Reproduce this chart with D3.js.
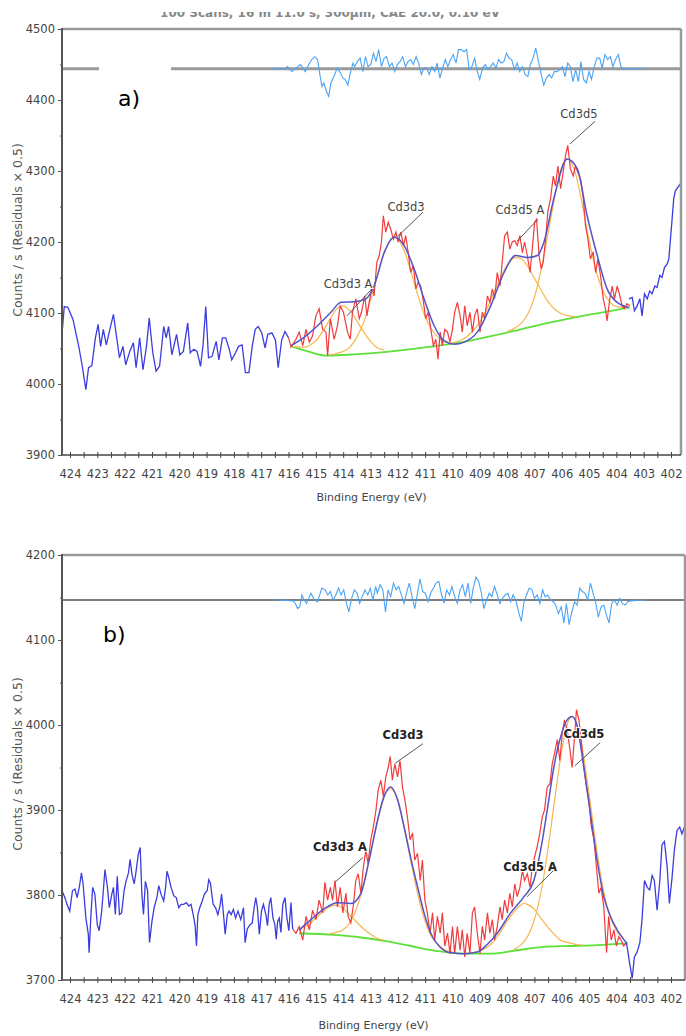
<!DOCTYPE html>
<html lang="en">
<head>
<meta charset="UTF-8">
<title>Cd 3d XPS</title>
<script src="https://d3js.org/d3.v7.min.js"></script>
<style>
  body { margin: 0; background: #fff; }
  svg { display: block; }
  text { font-family: "DejaVu Sans", Verdana, sans-serif; }
</style>
</head>
<body>
<svg width="686" height="1036"></svg>
<script>
// ---- tick labels ----
const xTickLabels = [424, 423, 422, 421, 420, 419, 418, 417, 416, 415, 414, 413, 412, 411, 410, 409, 408, 407, 406, 405, 404, 403, 402];
const yTicksA = [3900, 4000, 4100, 4200, 4300, 4400, 4500];
const yTicksB = [3700, 3800, 3900, 4000, 4100, 4200];
const titleA = "100 Scans,  16 m 11.0 s,  300µm,  CAE 20.0,  0.10 eV";

// ---- panel a: [binding energy (eV), counts/s] ----
const rawA_left = [[424.29,4072],[424.21,4109],[424.08,4108],[423.89,4091],[423.68,4053],[423.55,4025],[423.42,3992],[423.32,4023],[423.2,4026],[423.07,4065],[422.97,4084],[422.88,4053],[422.78,4077],[422.67,4055],[422.54,4077],[422.41,4098],[422.29,4065],[422.19,4037],[422.06,4053],[421.96,4027],[421.81,4046],[421.68,4058],[421.58,4023],[421.45,4065],[421.33,4020],[421.2,4053],[421.1,4093],[420.97,4044],[420.85,4018],[420.72,4025],[420.57,4081],[420.48,4065],[420.39,4081],[420.27,4041],[420.1,4070],[419.98,4041],[419.85,4046],[419.69,4086],[419.6,4044],[419.47,4049],[419.35,4046],[419.22,4025],[419.13,4055],[419.03,4109],[418.93,4037],[418.8,4039],[418.65,4060],[418.55,4034],[418.42,4065],[418.3,4065],[418.17,4049],[418.08,4034],[417.94,4044],[417.83,4053],[417.7,4055],[417.58,4016],[417.45,4016],[417.33,4053],[417.22,4077],[417.11,4081],[416.98,4072],[416.86,4051],[416.76,4070],[416.61,4072],[416.48,4062],[416.38,4023],[416.25,4062],[416.13,4074],[416.0,4065]];
const rawA_right = [[403.54,4120],[403.42,4122],[403.34,4103],[403.24,4110],[403.14,4120],[403.06,4096],[402.97,4127],[402.87,4120],[402.78,4131],[402.69,4127],[402.59,4138],[402.51,4136],[402.41,4153],[402.33,4150],[402.24,4164],[402.14,4169],[402.08,4176],[402.02,4204],[401.96,4232],[401.9,4261],[401.84,4272],[401.6,4285]];
const rawA_fit = [[416.0,4065],[415.91,4052],[415.73,4063],[415.61,4073],[415.48,4054],[415.36,4077],[415.24,4059],[415.12,4068],[415.0,4096],[414.88,4106],[414.75,4077],[414.63,4073],[414.57,4040],[414.47,4092],[414.33,4063],[414.21,4082],[414.11,4110],[413.99,4101],[413.84,4073],[413.74,4063],[413.66,4101],[413.54,4120],[413.41,4092],[413.33,4101],[413.21,4124],[413.13,4096],[413.05,4115],[412.93,4138],[412.87,4124],[412.77,4171],[412.68,4181],[412.6,4200],[412.53,4237],[412.44,4214],[412.35,4228],[412.26,4218],[412.16,4204],[412.07,4214],[411.99,4200],[411.89,4214],[411.79,4195],[411.71,4209],[411.62,4185],[411.53,4157],[411.43,4167],[411.34,4134],[411.26,4143],[411.16,4138],[411.06,4115],[410.98,4092],[410.89,4101],[410.79,4077],[410.7,4054],[410.61,4063],[410.53,4035],[410.45,4073],[410.37,4054],[410.28,4077],[410.18,4073],[410.09,4059],[410.0,4077],[409.92,4101],[409.82,4115],[409.72,4096],[409.64,4073],[409.55,4110],[409.46,4082],[409.36,4101],[409.27,4073],[409.19,4096],[409.09,4106],[408.99,4073],[408.91,4101],[408.82,4092],[408.72,4124],[408.63,4115],[408.54,4134],[408.46,4120],[408.36,4157],[408.26,4138],[408.18,4171],[408.09,4209],[407.99,4214],[407.9,4190],[407.81,4200],[407.72,4202],[407.63,4195],[407.53,4209],[407.44,4185],[407.36,4200],[407.26,4181],[407.16,4157],[407.08,4190],[406.99,4228],[406.92,4232],[406.83,4181],[406.75,4162],[406.68,4171],[406.59,4204],[406.51,4242],[406.41,4261],[406.31,4293],[406.23,4279],[406.14,4307],[406.04,4275],[405.95,4298],[405.86,4322],[405.78,4336],[405.68,4303],[405.58,4293],[405.5,4307],[405.41,4298],[405.31,4289],[405.21,4261],[405.13,4223],[405.04,4204],[404.95,4176],[404.85,4186],[404.76,4157],[404.68,4176],[404.58,4153],[404.48,4120],[404.4,4106],[404.34,4089],[404.24,4120],[404.15,4138],[404.07,4120],[403.97,4138],[403.87,4124],[403.79,4110],[403.71,4106],[403.61,4113],[403.51,4110]];
const bgA = [[415.91,4053],[415.3,4046],[414.6,4040],[413.5,4042],[412.5,4045],[411.5,4049],[410.5,4054],[409.5,4060],[408.5,4068],[407.5,4077],[406.5,4086],[405.5,4094],[404.5,4101],[403.5,4108]];
const envA = [[415.91,4054],[415.42,4066],[414.94,4082],[414.45,4101],[414.08,4115],[413.59,4116],[413.17,4120],[412.86,4139],[412.5,4185],[412.13,4207],[411.77,4195],[411.4,4162],[411.04,4120],[410.67,4082],[410.31,4061],[409.94,4056],[409.57,4059],[409.09,4073],[408.6,4110],[408.11,4157],[407.69,4181],[407.26,4178],[406.89,4181],[406.65,4200],[406.29,4261],[405.8,4317],[405.43,4303],[405.07,4237],[404.7,4181],[404.34,4134],[403.97,4115],[403.55,4108]];
const cd3d3A_a = [[415.91,4053],[415.6,4052],[415.4,4052],[415.2,4055],[415.0,4061],[414.75,4074],[414.5,4090],[414.25,4105],[414.02,4110],[413.75,4103],[413.5,4089],[413.25,4073],[413.0,4060],[412.75,4051],[412.5,4048]];
const cd3d3_a = [[414.5,4041],[414.25,4043],[414.0,4046],[413.75,4052],[413.5,4066],[413.25,4087],[413.0,4118],[412.75,4152],[412.5,4184],[412.13,4206],[412.0,4204],[411.75,4186],[411.5,4156],[411.25,4123],[411.0,4095],[410.75,4076],[410.5,4065],[410.25,4059],[410.0,4058]];
const cd3d5A_a = [[410.0,4058],[409.75,4061],[409.5,4066],[409.25,4075],[409.0,4087],[408.75,4105],[408.5,4127],[408.25,4149],[408.0,4168],[407.69,4178],[407.5,4177],[407.25,4166],[407.0,4149],[406.75,4132],[406.5,4116],[406.25,4105],[406.0,4099],[405.75,4096],[405.5,4095]];
const cd3d5_a = [[408.0,4074],[407.75,4078],[407.5,4085],[407.25,4098],[407.0,4122],[406.75,4162],[406.5,4212],[406.25,4265],[406.0,4305],[405.8,4317],[405.5,4297],[405.25,4254],[405.0,4203],[404.75,4160],[404.5,4132],[404.25,4116],[404.0,4109],[403.75,4108],[403.5,4108]];
const residA = [[416.61,4444],[416.12,4444],[416.04,4447],[415.88,4440],[415.72,4445],[415.56,4450],[415.39,4440],[415.26,4450],[415.15,4457],[415.04,4461],[414.94,4457],[414.87,4440],[414.78,4419],[414.71,4424],[414.61,4412],[414.53,4405],[414.45,4424],[414.34,4433],[414.22,4445],[414.13,4440],[414.01,4431],[413.93,4429],[413.83,4421],[413.74,4438],[413.64,4452],[413.58,4447],[413.48,4454],[413.38,4459],[413.28,4440],[413.18,4461],[413.09,4447],[412.99,4450],[412.89,4466],[412.8,4454],[412.7,4471],[412.6,4447],[412.5,4459],[412.41,4461],[412.31,4447],[412.21,4452],[412.11,4440],[412.02,4450],[411.92,4454],[411.82,4461],[411.72,4447],[411.63,4454],[411.53,4457],[411.43,4450],[411.33,4461],[411.24,4452],[411.14,4436],[411.04,4445],[410.94,4445],[410.85,4436],[410.75,4447],[410.65,4440],[410.56,4452],[410.46,4431],[410.36,4445],[410.26,4457],[410.17,4447],[410.07,4457],[409.97,4464],[409.87,4452],[409.78,4471],[409.68,4471],[409.58,4468],[409.48,4471],[409.39,4443],[409.29,4447],[409.19,4459],[409.09,4440],[409.0,4429],[408.9,4445],[408.8,4450],[408.7,4443],[408.61,4447],[408.51,4452],[408.41,4445],[408.31,4457],[408.22,4452],[408.12,4454],[408.02,4466],[407.93,4459],[407.83,4457],[407.73,4443],[407.63,4452],[407.54,4440],[407.44,4447],[407.34,4436],[407.24,4433],[407.15,4450],[407.05,4459],[406.95,4473],[406.85,4454],[406.76,4438],[406.66,4421],[406.56,4431],[406.46,4436],[406.37,4431],[406.27,4440],[406.17,4440],[406.07,4443],[405.98,4447],[405.88,4433],[405.78,4452],[405.68,4447],[405.59,4426],[405.49,4443],[405.39,4426],[405.3,4454],[405.2,4429],[405.1,4424],[405.0,4440],[404.91,4429],[404.81,4447],[404.71,4459],[404.61,4459],[404.52,4445],[404.42,4464],[404.32,4457],[404.22,4461],[404.13,4447],[404.03,4457],[403.93,4464],[403.83,4447],[403.74,4443],[403.64,4445],[403.54,4443],[403.44,4444],[402.97,4444]];
const zeroA = 4444;
const zeroGapA = [422.94, 420.3];
const labelsA = [
  { text: "Cd3d3 A", at: [413.82, 4141], from: [412.95, 4134], to: [413.86, 4096] },
  { text: "Cd3d3",   at: [411.7, 4249],  from: [411.08, 4242], to: [412.0, 4208] },
  { text: "Cd3d5 A", at: [407.53, 4245], from: [406.87, 4232], to: [407.64, 4201] },
  { text: "Cd3d5",   at: [405.37, 4380], from: [404.78, 4370], to: [405.7, 4338] }
];

// ---- panel b ----
const rawB_left = [[424.29,3805],[424.19,3797],[424.11,3789],[424.01,3781],[423.91,3805],[423.82,3807],[423.74,3797],[423.66,3809],[423.58,3826],[423.52,3813],[423.42,3773],[423.33,3754],[423.3,3732],[423.24,3773],[423.17,3809],[423.09,3801],[423.0,3765],[422.93,3758],[422.84,3781],[422.78,3805],[422.72,3830],[422.63,3809],[422.56,3785],[422.47,3801],[422.41,3809],[422.34,3777],[422.27,3822],[422.19,3777],[422.11,3779],[422.02,3805],[421.95,3816],[421.86,3826],[421.8,3842],[421.73,3824],[421.65,3813],[421.58,3828],[421.5,3848],[421.43,3856],[421.37,3801],[421.31,3777],[421.24,3816],[421.16,3805],[421.09,3744],[421.0,3769],[420.92,3785],[420.82,3797],[420.75,3811],[420.67,3801],[420.57,3793],[420.5,3809],[420.45,3828],[420.38,3820],[420.3,3809],[420.2,3799],[420.11,3797],[420.02,3785],[419.93,3789],[419.84,3789],[419.74,3791],[419.65,3787],[419.57,3789],[419.49,3777],[419.42,3764],[419.37,3740],[419.32,3777],[419.25,3785],[419.16,3793],[419.08,3801],[418.98,3805],[418.92,3818],[418.86,3814],[418.76,3789],[418.67,3785],[418.59,3777],[418.51,3787],[418.45,3801],[418.37,3773],[418.32,3754],[418.24,3777],[418.18,3781],[418.1,3777],[418.02,3783],[417.94,3773],[417.85,3781],[417.75,3771],[417.65,3785],[417.59,3744],[417.51,3760],[417.41,3765],[417.33,3767],[417.26,3785],[417.2,3797],[417.14,3785],[417.07,3754],[416.99,3781],[416.92,3789],[416.83,3777],[416.77,3764],[416.71,3789],[416.65,3797],[416.57,3773],[416.5,3765],[416.45,3748],[416.4,3769],[416.34,3773],[416.28,3756],[416.21,3789],[416.13,3797],[416.06,3773],[415.99,3758],[415.91,3791],[415.85,3760]];
const rawB_right = [[403.63,3744],[403.51,3719],[403.42,3702],[403.34,3727],[403.24,3733],[403.14,3744],[403.06,3771],[402.97,3817],[402.87,3809],[402.78,3806],[402.69,3823],[402.61,3817],[402.51,3782],[402.41,3817],[402.33,3859],[402.24,3863],[402.14,3833],[402.06,3790],[401.96,3821],[401.88,3852],[401.78,3876],[401.68,3880],[401.6,3872],[401.45,3885]];
const rawB_fit = [[415.85,3760],[415.73,3755],[415.61,3763],[415.48,3747],[415.36,3775],[415.24,3759],[415.12,3782],[415.0,3771],[414.88,3794],[414.75,3779],[414.67,3815],[414.57,3794],[414.47,3809],[414.39,3794],[414.3,3817],[414.21,3786],[414.11,3809],[414.01,3779],[413.9,3802],[413.82,3775],[413.72,3767],[413.62,3790],[413.54,3817],[413.45,3825],[413.35,3802],[413.26,3833],[413.17,3853],[413.09,3837],[412.99,3865],[412.89,3881],[412.8,3900],[412.72,3923],[412.62,3935],[412.53,3916],[412.44,3939],[412.35,3950],[412.28,3963],[412.2,3935],[412.11,3954],[412.01,3939],[411.92,3958],[411.83,3927],[411.74,3912],[411.65,3892],[411.55,3865],[411.46,3873],[411.38,3841],[411.28,3849],[411.18,3817],[411.1,3841],[411.01,3794],[410.92,3779],[410.82,3755],[410.73,3779],[410.65,3747],[410.55,3775],[410.45,3755],[410.37,3779],[410.28,3740],[410.18,3755],[410.09,3731],[410.0,3763],[409.92,3731],[409.82,3763],[409.72,3735],[409.64,3759],[409.55,3727],[409.46,3755],[409.36,3731],[409.27,3779],[409.19,3786],[409.09,3755],[408.99,3731],[408.91,3763],[408.82,3747],[408.72,3779],[408.63,3755],[408.54,3771],[408.46,3747],[408.36,3763],[408.26,3786],[408.18,3771],[408.09,3794],[407.99,3779],[407.9,3802],[407.81,3786],[407.72,3813],[407.63,3798],[407.53,3809],[407.44,3829],[407.36,3817],[407.26,3825],[407.16,3809],[407.08,3833],[406.99,3845],[406.9,3857],[406.8,3873],[406.71,3892],[406.63,3900],[406.53,3927],[406.43,3931],[406.35,3954],[406.26,3967],[406.16,3983],[406.07,3958],[405.98,3990],[405.9,4006],[405.8,3994],[405.7,3971],[405.62,3950],[405.53,3986],[405.46,4018],[405.37,4006],[405.29,3983],[405.19,3950],[405.09,3927],[405.01,3912],[404.92,3881],[404.82,3865],[404.73,3833],[404.64,3802],[404.56,3809],[404.46,3786],[404.36,3732],[404.28,3775],[404.19,3747],[404.09,3759],[404.0,3740],[403.91,3751],[403.83,3747],[403.73,3740],[403.63,3744]];
const bgB = [[415.61,3755],[414.33,3753],[413.35,3750],[412.5,3746],[411.53,3740],[410.55,3734],[409.58,3731],[408.6,3731],[407.63,3735],[406.65,3739],[405.68,3740],[404.7,3741],[403.61,3743]];
const envB = [[415.61,3759],[415.18,3771],[414.69,3784],[414.2,3791],[413.72,3790],[413.35,3802],[413.05,3841],[412.74,3888],[412.5,3916],[412.26,3927],[412.01,3912],[411.77,3880],[411.53,3844],[411.28,3810],[411.04,3779],[410.79,3755],[410.43,3738],[410.06,3732],[409.58,3731],[409.09,3733],[408.72,3742],[408.36,3755],[407.87,3779],[407.38,3798],[407.02,3817],[406.77,3853],[406.53,3900],[406.29,3950],[406.04,3986],[405.8,4006],[405.62,4010],[405.43,3998],[405.19,3950],[404.95,3896],[404.7,3840],[404.46,3798],[404.22,3775],[403.97,3759],[403.61,3743]];
const cd3d3A_b = [[415.61,3757],[415.5,3761],[415.25,3765],[415.0,3773],[414.75,3780],[414.5,3786],[414.27,3788],[414.0,3784],[413.75,3776],[413.5,3768],[413.25,3760],[413.0,3754],[412.75,3749],[412.5,3747]];
const cd3d3_b = [[414.5,3754],[414.25,3756],[414.0,3759],[413.75,3768],[413.5,3785],[413.25,3813],[413.0,3849],[412.75,3886],[412.5,3917],[412.26,3925],[412.0,3912],[411.75,3877],[411.5,3836],[411.25,3798],[411.0,3769],[410.75,3750],[410.5,3741],[410.25,3735],[410.0,3733]];
const cd3d5A_b = [[409.5,3731],[409.25,3732],[409.0,3734],[408.75,3738],[408.5,3745],[408.25,3756],[408.0,3769],[407.75,3780],[407.5,3788],[407.38,3790],[407.25,3789],[407.0,3783],[406.75,3772],[406.5,3762],[406.25,3753],[406.0,3746],[405.75,3744],[405.5,3742],[405.25,3741]];
const cd3d5_b = [[407.75,3736],[407.5,3741],[407.25,3751],[407.0,3771],[406.75,3805],[406.5,3855],[406.25,3914],[406.0,3970],[405.75,4005],[405.62,4010],[405.5,4006],[405.25,3973],[405.0,3919],[404.75,3860],[404.5,3810],[404.25,3777],[404.0,3758],[403.75,3750]];
const residB = [[416.4,4147],[415.83,4146],[415.75,4143],[415.67,4137],[415.59,4139],[415.51,4153],[415.43,4147],[415.34,4143],[415.26,4149],[415.18,4155],[415.05,4147],[414.94,4145],[414.86,4153],[414.78,4161],[414.66,4159],[414.56,4153],[414.47,4157],[414.37,4147],[414.27,4153],[414.17,4161],[414.08,4153],[413.98,4159],[413.88,4143],[413.79,4133],[413.69,4149],[413.59,4159],[413.49,4155],[413.4,4143],[413.3,4151],[413.2,4159],[413.1,4153],[413.01,4161],[412.91,4147],[412.81,4163],[412.75,4155],[412.65,4165],[412.55,4159],[412.45,4133],[412.36,4159],[412.26,4151],[412.16,4167],[412.06,4159],[411.97,4163],[411.87,4153],[411.77,4143],[411.67,4157],[411.58,4167],[411.48,4151],[411.38,4137],[411.28,4155],[411.19,4172],[411.09,4157],[410.99,4155],[410.89,4145],[410.8,4155],[410.7,4161],[410.6,4167],[410.5,4169],[410.41,4155],[410.31,4143],[410.21,4159],[410.11,4153],[410.02,4163],[409.92,4151],[409.82,4143],[409.72,4159],[409.63,4165],[409.53,4151],[409.43,4167],[409.33,4143],[409.24,4161],[409.14,4174],[409.04,4169],[408.94,4155],[408.85,4137],[408.75,4147],[408.65,4155],[408.56,4151],[408.46,4163],[408.36,4153],[408.26,4143],[408.17,4149],[408.07,4153],[407.97,4155],[407.87,4145],[407.78,4153],[407.68,4147],[407.58,4133],[407.48,4122],[407.39,4143],[407.29,4153],[407.19,4161],[407.09,4159],[407.0,4149],[406.9,4153],[406.8,4143],[406.7,4159],[406.61,4151],[406.51,4153],[406.41,4147],[406.31,4145],[406.22,4141],[406.12,4131],[406.02,4139],[405.92,4120],[405.83,4143],[405.73,4118],[405.63,4133],[405.53,4145],[405.44,4141],[405.34,4161],[405.24,4157],[405.14,4155],[405.05,4147],[404.95,4167],[404.85,4155],[404.75,4143],[404.66,4127],[404.56,4139],[404.46,4141],[404.36,4129],[404.27,4120],[404.17,4143],[404.07,4147],[403.97,4141],[403.88,4149],[403.78,4143],[403.68,4141],[403.58,4145],[403.49,4146],[403.0,4147]];
const zeroB = 4147;
const labelsB = [
  { text: "Cd3d3 A", at: [414.12, 3856], from: [413.28, 3844], to: [414.3, 3815] },
  { text: "Cd3d3",   at: [411.81, 3988], from: [411.08, 3978], to: [412.1, 3955] },
  { text: "Cd3d5 A", at: [407.16, 3833], from: [406.17, 3833], to: [407.27, 3798] },
  { text: "Cd3d5",   at: [405.19, 3989], from: [404.6, 3979],  to: [405.52, 3952] }
];

// shared energy scale (reversed, high BE on the left)
const x = d3.scaleLinear().domain([424, 402]).range([70, 671]);

const svg = d3.select("svg");

function drawPanel(p) {
  const y = d3.scaleLinear().domain([p.yTicks[0], p.yTicks[p.yTicks.length - 1]]).range([p.bottom, p.top]);
  const g = svg.append("g");

  g.append("clipPath").attr("id", p.id + "clip")
    .append("rect").attr("x", p.left).attr("y", p.top)
    .attr("width", p.right - p.left).attr("height", p.bottom - p.top);

  const plot = g.append("g").attr("clip-path", `url(#${p.id}clip)`);
  const raw = d3.line().x(d => x(d[0])).y(d => y(d[1]));
  const smooth = d3.line().x(d => x(d[0])).y(d => y(d[1])).curve(d3.curveMonotoneX);

  // residual zero line
  if (p.zeroGap) {
    const xa = x(p.zeroGap[0]), xb = x(p.zeroGap[1]);
    [[p.left, xa], [xb, p.right]].forEach(s => {
      plot.append("line").attr("x1", s[0]).attr("x2", s[1])
        .attr("y1", y(p.zero)).attr("y2", y(p.zero))
        .attr("stroke", "#9a9a9a").attr("stroke-width", 3);
    });
  } else {
    plot.append("line").attr("x1", p.left).attr("x2", p.right)
      .attr("y1", y(p.zero)).attr("y2", y(p.zero))
      .attr("stroke", "#555").attr("stroke-width", 1.5);
  }
  plot.append("path").datum(p.resid).attr("d", raw)
    .attr("fill", "none").attr("stroke", "#4aa3f5").attr("stroke-width", 1.1);

  plot.append("path").datum(p.bg).attr("d", smooth)
    .attr("fill", "none").attr("stroke", "#5ee03a").attr("stroke-width", 1.8);
  p.comps.forEach(c => {
    plot.append("path").datum(c).attr("d", smooth)
      .attr("fill", "none").attr("stroke", "#f7b54e").attr("stroke-width", 1.2);
  });
  plot.append("path").datum(p.fit).attr("d", raw)
    .attr("fill", "none").attr("stroke", "#f23c3c").attr("stroke-width", 1.2);
  plot.append("path").datum(p.env).attr("d", smooth)
    .attr("fill", "none").attr("stroke", "#5454c8").attr("stroke-width", 1.5);
  [p.left_, p.right_].forEach(s => {
    plot.append("path").datum(s).attr("d", raw)
      .attr("fill", "none").attr("stroke", "#3c3ce0").attr("stroke-width", 1.3);
  });

  // peak labels with leader lines
  p.labels.forEach(l => {
    g.append("line")
      .attr("x1", x(l.from[0])).attr("y1", y(l.from[1]))
      .attr("x2", x(l.to[0])).attr("y2", y(l.to[1]))
      .attr("stroke", "#555").attr("stroke-width", 1);
    g.append("text").attr("x", x(l.at[0])).attr("y", y(l.at[1]) + 4)
      .attr("text-anchor", "middle").attr("font-size", 11.5)
      .attr("font-weight", p.boldLabels ? "bold" : "normal")
      .attr("fill", p.boldLabels ? "#222" : "#444")
      .attr("stroke", "#fff").attr("stroke-width", 2).attr("paint-order", "stroke")
      .text(l.text);
  });

  // frame
  g.append("line").attr("x1", p.left).attr("x2", p.right).attr("y1", p.top).attr("y2", p.top)
    .attr("stroke", "#999").attr("stroke-width", 2.5);
  g.append("line").attr("x1", p.right).attr("x2", p.right).attr("y1", p.top).attr("y2", p.bottom)
    .attr("stroke", "#999").attr("stroke-width", 2.5);
  g.append("line").attr("x1", p.left).attr("x2", p.left).attr("y1", p.top - 1).attr("y2", p.bottom)
    .attr("stroke", "#555").attr("stroke-width", 2);

  // y axis
  const minorY = d3.range(p.yTicks[0] + 50, p.yTicks[p.yTicks.length - 1], 100);
  g.append("g").attr("transform", `translate(${p.left},0)`)
    .call(d3.axisLeft(y).tickValues(p.yTicks).tickSize(4).tickPadding(3).tickFormat(d3.format("d")))
    .call(a => a.select(".domain").remove())
    .call(a => a.selectAll("text").attr("font-family", null).attr("font-size", 11.5).attr("fill", "#444"))
    .call(a => a.selectAll(".tick line").attr("stroke", "#555"));
  g.append("g").attr("transform", `translate(${p.left},0)`)
    .call(d3.axisLeft(y).tickValues(minorY).tickSize(2).tickFormat(""))
    .call(a => a.select(".domain").remove())
    .call(a => a.selectAll(".tick line").attr("stroke", "#555").attr("x2", 1).attr("x1", -2));

  // x axis
  const minorX = xTickLabels.slice(0, -1).map(v => v - 0.5);
  g.append("g").attr("transform", `translate(0,${p.bottom})`)
    .call(d3.axisBottom(x).tickValues(xTickLabels).tickSize(3).tickPadding(12).tickFormat(d3.format("d")))
    .call(a => a.select(".domain").attr("stroke", "#444").attr("stroke-width", 1.5)
      .attr("d", `M${p.left},0H${p.right}`))
    .call(a => a.selectAll(".tick line").attr("y1", -3).attr("stroke", "#444"))
    .call(a => a.selectAll("text").attr("font-family", null).attr("font-size", 11.5).attr("fill", "#444"));
  g.append("g").attr("transform", `translate(0,${p.bottom})`)
    .call(d3.axisBottom(x).tickValues(minorX).tickSize(3).tickFormat(""))
    .call(a => a.select(".domain").remove())
    .call(a => a.selectAll(".tick line").attr("y1", -3).attr("stroke", "#444"));

  // axis titles
  g.append("text").attr("x", (p.left + p.right) / 2).attr("y", p.xTitleY)
    .attr("text-anchor", "middle").attr("font-size", 11).attr("fill", "#444")
    .text("Binding Energy (eV)");
  g.append("text").attr("transform", `translate(22,${p.yTitleY}) rotate(-90)`)
    .attr("text-anchor", "middle").attr("font-size", 12.5).attr("fill", "#555")
    .text("Counts / s  (Residuals × 0.5)");

  g.append("text").attr("x", p.tag[1]).attr("y", p.tag[2])
    .attr("font-family", "Lato, 'Open Sans', sans-serif").attr("font-size", 22).attr("fill", "#000")
    .text(p.tag[0]);
}

// clipped scan title at the top of panel a
svg.append("text").attr("x", 330).attr("y", 17).attr("text-anchor", "middle")
  .attr("font-size", 12).attr("font-weight", "bold").attr("fill", "#888").text(titleA);
svg.append("rect").attr("x", 0).attr("y", 0).attr("width", 686).attr("height", 12).attr("fill", "#fff");

drawPanel({
  id: "a", left: 62, right: 681, top: 29, bottom: 455, yTicks: yTicksA,
  zero: zeroA, zeroGap: zeroGapA, resid: residA, bg: bgA, env: envA, fit: rawA_fit,
  left_: rawA_left, right_: rawA_right, comps: [cd3d3A_a, cd3d3_a, cd3d5A_a, cd3d5_a],
  labels: labelsA, boldLabels: false, xTitleY: 501, yTitleY: 230, tag: ["a)", 118, 106]
});
drawPanel({
  id: "b", left: 62, right: 685, top: 555, bottom: 980, yTicks: yTicksB,
  zero: zeroB, zeroGap: null, resid: residB, bg: bgB, env: envB, fit: rawB_fit,
  left_: rawB_left, right_: rawB_right, comps: [cd3d3A_b, cd3d3_b, cd3d5A_b, cd3d5_b],
  labels: labelsB, boldLabels: true, xTitleY: 1029, yTitleY: 764, tag: ["b)", 103, 642]
});
</script>
</body>
</html>
